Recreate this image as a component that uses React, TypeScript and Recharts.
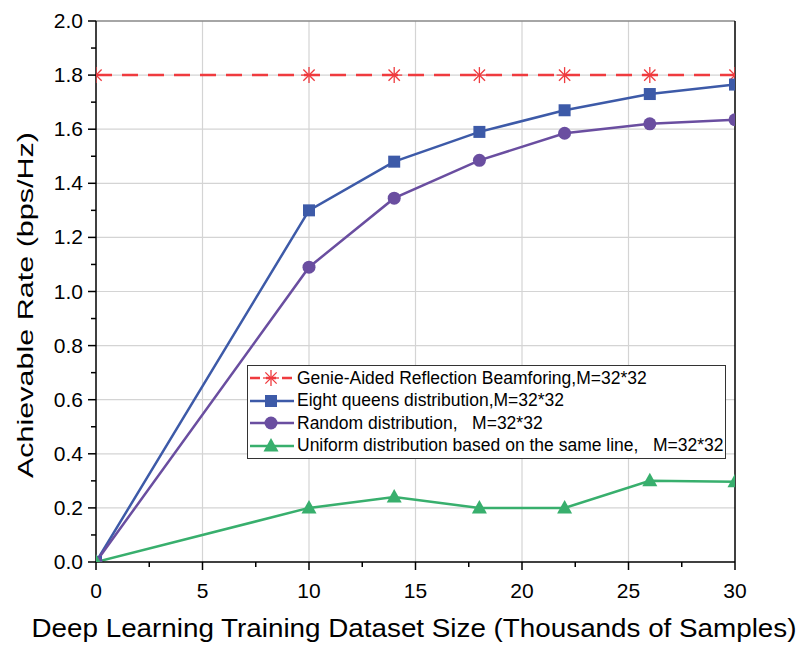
import React from "react"
import { LineChart, Line, XAxis, YAxis, ReferenceLine, Legend } from "recharts"

// thousands of samples
const sampleSizes = [0, 10, 14, 18, 22, 26, 30]
const genieAided = [1.8, 1.8, 1.8, 1.8, 1.8, 1.8, 1.8]
const eightQueens = [0, 1.3, 1.48, 1.59, 1.67, 1.73, 1.765]
const randomDist = [0, 1.09, 1.345, 1.485, 1.585, 1.62, 1.635]
const uniformLine = [0, 0.2, 0.24, 0.2, 0.2, 0.3, 0.297]

const xTicks = [0, 2.5, 5, 7.5, 10, 12.5, 15, 17.5, 20, 22.5, 25, 27.5, 30]
const yTicks = [0, 0.1, 0.2, 0.3, 0.4, 0.5, 0.6, 0.7, 0.8, 0.9, 1.0, 1.1, 1.2, 1.3, 1.4, 1.5, 1.6, 1.7, 1.8, 1.9, 2.0]
const xGrid = [5, 10, 15, 20, 25]
const yGrid = [0.2, 0.4, 0.6, 0.8, 1.0, 1.2, 1.4, 1.6, 1.8]

const data = sampleSizes.map((x, i) => ({
  x,
  genie: genieAided[i],
  queens: eightQueens[i],
  random: randomDist[i],
  uniform: uniformLine[i],
}))

const FONT = "'Liberation Sans', Arial, sans-serif"
const RED = "#ef3b3f"
const BLUE = "#3d5aa8"
const PURPLE = "#6a4ea0"
const GREEN = "#38af6d"

const isMajor = (v: number, step: number) => Math.abs(v / step - Math.round(v / step)) < 1e-6

function XTick({ x, y, payload }: any) {
  const major = isMajor(payload.value, 5)
  return (
    <g>
      <line x1={x} x2={x} y1={y} y2={y + (major ? 8 : 5)} stroke="#000" strokeWidth={1.5} />
      {major && (
        <text x={x} y={y + 36} textAnchor="middle" fontSize={21} fontFamily={FONT} fill="#000">
          {payload.value}
        </text>
      )}
    </g>
  )
}

function YTick({ x, y, payload }: any) {
  const major = isMajor(payload.value, 0.2)
  return (
    <g>
      <line x1={x} x2={x - (major ? 8 : 5)} y1={y} y2={y} stroke="#000" strokeWidth={1.5} />
      {major && (
        <text x={x - 13} y={y + 7} textAnchor="end" fontSize={21} fontFamily={FONT} fill="#000">
          {payload.value.toFixed(1)}
        </text>
      )}
    </g>
  )
}

function RightTick({ x, y, payload }: any) {
  const major = isMajor(payload.value, 0.2)
  return <line x1={x} x2={x - (major ? 8 : 5)} y1={y} y2={y} stroke="#000" strokeWidth={1.5} />
}

function Star({ cx, cy }: any) {
  if (cx == null || cy == null) return null
  const r = 8
  const d = r * Math.SQRT1_2
  return (
    <g stroke={RED} strokeWidth={1.3}>
      <line x1={cx - r} x2={cx + r} y1={cy} y2={cy} />
      <line x1={cx} x2={cx} y1={cy - r} y2={cy + r} />
      <line x1={cx - d} x2={cx + d} y1={cy - d} y2={cy + d} />
      <line x1={cx - d} x2={cx + d} y1={cy + d} y2={cy - d} />
    </g>
  )
}

function Square({ cx, cy }: any) {
  if (cx == null || cy == null) return null
  return <rect x={cx - 6} y={cy - 6} width={12} height={12} fill={BLUE} />
}

function Circle({ cx, cy }: any) {
  if (cx == null || cy == null) return null
  return <circle cx={cx} cy={cy} r={6.5} fill={PURPLE} />
}

function Triangle({ cx, cy }: any) {
  if (cx == null || cy == null) return null
  return <polygon points={`${cx},${cy - 8} ${cx - 7.5},${cy + 5.5} ${cx + 7.5},${cy + 5.5}`} fill={GREEN} />
}

const legendItems = [
  { label: "Genie-Aided Reflection Beamforing,M=32*32", color: RED, dash: true, marker: "star" },
  { label: "Eight queens distribution,M=32*32", color: BLUE, marker: "square" },
  { label: "Random distribution,   M=32*32", color: PURPLE, marker: "circle" },
  { label: "Uniform distribution based on the same line,   M=32*32", color: GREEN, marker: "triangle" },
]

function LegendIcon({ item }: any) {
  const cx = 22
  const cy = 11
  let mark: React.ReactNode = null
  if (item.marker === "star") mark = <Star cx={cx} cy={cy} />
  if (item.marker === "square") mark = <rect x={cx - 6} y={cy - 6} width={12} height={12} fill={item.color} />
  if (item.marker === "circle") mark = <circle cx={cx} cy={cy} r={6.5} fill={item.color} />
  if (item.marker === "triangle")
    mark = <polygon points={`${cx},${cy - 8} ${cx - 7.5},${cy + 5.5} ${cx + 7.5},${cy + 5.5}`} fill={item.color} />
  return (
    <svg width={46} height={22} style={{ display: "block" }}>
      <line x1={1} x2={45} y1={cy} y2={cy} stroke={item.color} strokeWidth={2.5} strokeDasharray={item.dash ? "10 6" : undefined} />
      {mark}
    </svg>
  )
}

function LegendBox() {
  return (
    <div
      style={{
        border: "1.5px solid #333",
        background: "#fff",
        padding: "1px 0 1px 1px",
        fontFamily: FONT,
        fontSize: 17.5,
        color: "#000",
        boxSizing: "border-box",
      }}
    >
      {legendItems.map((item) => (
        <div key={item.label} style={{ display: "flex", alignItems: "center", height: 22.5 }}>
          <LegendIcon item={item} />
          <span style={{ whiteSpace: "pre", marginLeft: 2 }}>{item.label}</span>
        </div>
      ))}
    </div>
  )
}

export default function App() {
  return (
    <div style={{ position: "absolute", left: 0, top: 0, width: 801, height: 646, background: "#fff" }}>
      <LineChart width={801} height={646} data={data} margin={{ top: 21, right: 0, bottom: 0, left: 0 }}>
        <XAxis
          dataKey="x"
          type="number"
          domain={[0, 30]}
          ticks={xTicks}
          tick={<XTick />}
          tickLine={false}
          tickSize={0}
          tickMargin={0}
          interval={0}
          allowDataOverflow
          axisLine={{ stroke: "#000", strokeWidth: 1.5 }}
          height={84}
        />
        <YAxis
          yAxisId="l"
          type="number"
          domain={[0, 2]}
          ticks={yTicks}
          tick={<YTick />}
          tickLine={false}
          tickSize={0}
          tickMargin={0}
          interval={0}
          allowDataOverflow
          axisLine={{ stroke: "#000", strokeWidth: 1.5 }}
          width={96}
        />
        <YAxis
          yAxisId="r"
          orientation="right"
          type="number"
          domain={[0, 2]}
          ticks={yTicks}
          tick={<RightTick />}
          tickLine={false}
          tickSize={0}
          tickMargin={0}
          interval={0}
          axisLine={{ stroke: "#000", strokeWidth: 1.5 }}
          width={66}
        />
        {xGrid.map((v) => (
          <ReferenceLine key={"x" + v} x={v} yAxisId="l" stroke="#d4d4d4" strokeWidth={1.2} />
        ))}
        {yGrid.map((v) => (
          <ReferenceLine key={"y" + v} y={v} yAxisId="l" stroke="#d4d4d4" strokeWidth={1.2} />
        ))}
        <ReferenceLine y={2} yAxisId="l" stroke="#888" strokeWidth={1.5} />
        <Legend
          layout="vertical"
          align="center"
          verticalAlign="middle"
          wrapperStyle={{ left: 247, top: 365, width: 479 }}
          content={() => <LegendBox />}
        />
        <Line yAxisId="l" dataKey="genie" stroke={RED} strokeWidth={2.5} strokeDasharray="16 10" dot={<Star />} isAnimationActive={false} />
        <Line yAxisId="l" dataKey="queens" stroke={BLUE} strokeWidth={2.5} dot={<Square />} isAnimationActive={false} />
        <Line yAxisId="l" dataKey="random" stroke={PURPLE} strokeWidth={2.5} dot={<Circle />} isAnimationActive={false} />
        <Line yAxisId="l" dataKey="uniform" stroke={GREEN} strokeWidth={2.5} dot={<Triangle />} isAnimationActive={false} />
        <text
          x={414}
          y={637}
          textAnchor="middle"
          fontSize={25}
          fontFamily={FONT}
          fill="#000"
          textLength={765}
          lengthAdjust="spacingAndGlyphs"
        >
          Deep Learning Training Dataset Size (Thousands of Samples)
        </text>
        <text
          x={0}
          y={0}
          transform="translate(33, 305) rotate(-90)"
          textAnchor="middle"
          fontSize={22}
          fontFamily={FONT}
          fill="#000"
          textLength={346}
          lengthAdjust="spacingAndGlyphs"
        >
          Achievable Rate (bps/Hz)
        </text>
      </LineChart>
    </div>
  )
}
